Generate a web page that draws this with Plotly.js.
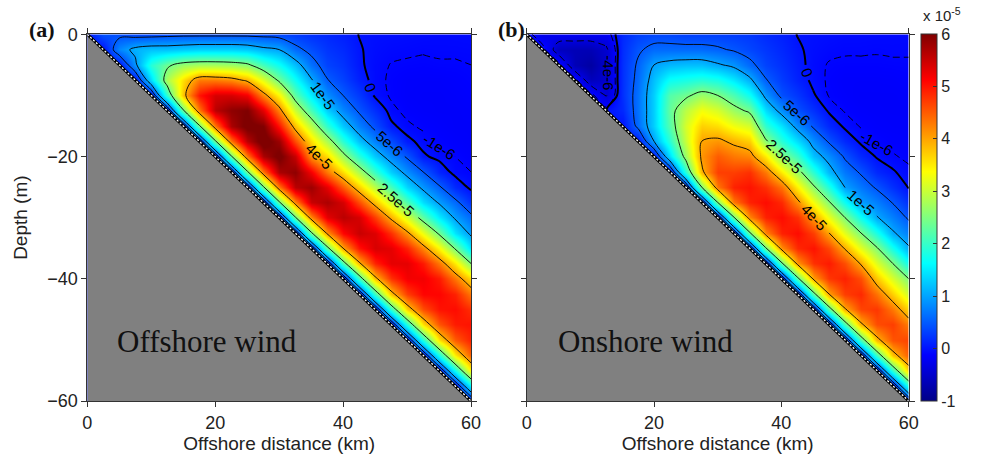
<!DOCTYPE html>
<html>
<head>
<meta charset="utf-8">
<script src="https://cdn.plot.ly/plotly-3.0.1.min.js"></script>
<style>
html,body{margin:0;padding:0;background:#fff;}
#chart{width:1003px;height:465px;}
</style>
</head>
<body>
<div id="chart"></div>
<script>
// ---------------- data ----------------
// grid positions
const distanceKm = [0,2.5,5,7.5,10,12.5,15,17.5,20,22.5,25,27.5,30,32.5,35,37.5,40,42.5,45,47.5,50,52.5,55,57.5,60];
const depthM = [0,-2.5,-5,-7.5,-10,-12.5,-15,-17.5,-20,-22.5,-25,-27.5,-30,-32.5,-35,-37.5,-40,-42.5,-45,-47.5,-50,-52.5,-55,-57.5,-60];

// sloping bottom (bathymetry)
const bottomX = [0, 60];
const bottomDepth = [0, -60];

// Field values in units of 1e-6, one vertical profile per offshore distance,
// listed from the surface (0 m) down to the bottom.
const offshoreProfiles = [
  [0],
  [4.5, 0],
  [4, 8, 0],
  [3.5, 11, 9, 0],
  [3.5, 12, 19, 14, 0],
  [3.8, 12, 24, 28, 20, 0],
  [4, 12.5, 27, 36, 38, 24, 0],
  [4, 13, 28, 43, 50, 43, 24, 0],
  [4, 13, 28, 43, 54, 56, 43, 24, 0],
  [4, 13, 27.5, 42, 54, 59, 57, 43, 24, 0],
  [4, 12.5, 26, 39, 52, 60, 61, 56, 43, 24, 0],
  [3.8, 11, 21, 32, 42, 53, 60, 62, 57, 43, 24, 0],
  [3.5, 10, 17, 24, 34, 42, 50, 58, 61, 57, 43, 24, 0],
  [2.8, 6, 12, 17, 22.5, 30, 38, 46, 55, 59, 56, 42, 24, 0],
  [2, 4, 6.5, 10.5, 15, 21, 29, 36, 41, 52, 58, 55, 42, 24, 0],
  [1.4, 2.3, 3.3, 5.2, 8.5, 13, 19.5, 28, 36, 43, 53, 57, 53, 41, 23, 0],
  [0.8, 1.5, 2.2, 3.2, 5, 8, 12.5, 19, 27, 36, 45, 54, 56, 51, 40, 22, 0],
  [-0.05, 0.15, 0.3, 0.9, 2.6, 4.5, 7.5, 12, 19, 28, 37, 46, 54, 55, 50, 39, 21, 0],
  [-0.3, -0.45, -0.6, -0.6, -0.3, 1.8, 4, 7.5, 12.5, 20, 29, 38, 47, 53.5, 54, 49, 38.5, 20.5, 0],
  [-0.4, -0.7, -1.05, -1.2, -1.15, -0.7, 0.4, 4, 8, 13, 21, 30, 39, 48, 53, 53, 48, 38, 20, 0],
  [-0.5, -0.8, -1.15, -1.45, -1.5, -1.3, -0.8, 0.5, 4.5, 8.5, 13.5, 21.5, 31, 41, 49, 53, 52, 47, 37, 19, 0],
  [-0.6, -0.9, -1.2, -1.5, -1.6, -1.5, -1.2, -0.6, 0.3, 5, 9, 14, 22.5, 32.5, 42, 49.5, 52, 51, 46, 36, 18.5, 0],
  [-0.7, -0.85, -1.1, -1.5, -1.6, -1.6, -1.4, -1.1, -0.5, 1.2, 5.5, 9.5, 15, 24, 34, 43, 49.5, 51, 50, 45.5, 35.5, 18, 0],
  [-0.65, -0.85, -1.1, -1.35, -1.5, -1.6, -1.6, -1.4, -1.0, -0.6, 1.5, 6, 9.5, 14.5, 24.5, 35, 43, 49, 50.5, 49.5, 45, 35, 17.5, 0],
  [-0.6, -0.8, -1.0, -1.15, -1.3, -1.5, -1.6, -1.6, -1.4, -1.0, -0.5, 2, 6, 9, 14, 25, 36, 43, 48, 50, 49, 45, 35, 17, 0]
];

const onshoreProfiles = [
  [-0.01],
  [-3, -0.01],
  [-2, -6, -0.01],
  [-2, -6.5, -6.5, -0.01],
  [-2, -6.5, -8, -6, -0.01],
  [-2, -4.6, -4.8, -4.8, -4.2, -0.01],
  [1.5, 1.8, 2, 2, 2, 1.5, 0],
  [3, 4.5, 5.5, 6, 6.5, 6.5, 6, 0],
  [3.5, 6, 10, 12, 13, 13, 13, 10, 0],
  [3.5, 6, 11.5, 17, 22, 23, 22, 19, 14, 0],
  [3, 6, 12, 18, 24, 29, 31, 30, 27, 19, 0],
  [3, 6, 12, 19, 27, 33, 37, 40, 41, 39, 25, 0],
  [3, 5.5, 10.5, 18, 25, 31, 36, 41, 45, 47, 43, 25, 0],
  [2.8, 4.6, 9, 15, 21.5, 27, 33, 39, 43, 47, 49, 43, 24, 0],
  [2.5, 3.5, 6, 11, 17, 24, 31, 37, 42, 48, 50, 49, 42, 24, 0],
  [1.6, 2.4, 3.3, 5.3, 9, 14, 19.5, 26, 35, 43, 48, 50.5, 49, 42, 24, 0],
  [0.9, 1.4, 2, 2.8, 4.2, 8.5, 14.5, 19, 25.5, 35, 43.5, 48.5, 50.5, 49, 41.5, 23.5, 0],
  [-0.05, 0.25, 0.6, 1.0, 2.4, 4.2, 8.5, 14, 20, 27, 34.5, 41.5, 48, 50.5, 48.5, 41, 23, 0],
  [-0.25, -0.4, -0.55, -0.4, 0.2, 2, 4.5, 8.5, 12, 19, 26, 33, 40.5, 47, 50, 48, 40.5, 22.5, 0],
  [-0.4, -0.7, -1.1, -1.2, -1.1, -0.3, 1.5, 4.5, 8.5, 11.5, 18.5, 25.5, 32.5, 40, 46.5, 49.5, 47.5, 40, 22, 0],
  [-0.6, -0.85, -1.2, -1.5, -1.4, -1.1, -0.4, 1.5, 4.5, 7, 9.8, 17, 25, 32, 39.5, 46, 49, 47, 39.5, 21.5, 0],
  [-0.6, -0.85, -1.2, -1.5, -1.6, -1.45, -1.1, -0.4, 1.5, 4.5, 7, 9.8, 17, 25, 32, 39.5, 46, 48.5, 46.5, 39, 21, 0],
  [-0.65, -0.9, -1.2, -1.5, -1.6, -1.55, -1.4, -1.0, -0.2, 1.5, 4.5, 7.5, 10.3, 18, 25.5, 31.5, 37.5, 43.5, 47.5, 46, 38.5, 20.5, 0],
  [-0.7, -0.85, -1.15, -1.45, -1.6, -1.6, -1.5, -1.3, -0.9, 0.2, 2, 4.8, 7.5, 10.5, 17.5, 25, 31, 37, 43, 47, 45.5, 38, 20, 0],
  [-0.7, -0.9, -1.1, -1.3, -1.5, -1.6, -1.55, -1.4, -1.2, -0.8, -0.2, 2, 4.5, 7.5, 10.5, 17, 25, 30.5, 36.5, 42.5, 46.5, 45, 37.5, 19.5, 0]
];

const contourLevels = [-4e-6, -1e-6, 0, 5e-6, 1e-5, 2.5e-5, 4e-5];
const colorTickVals = [-1e-5, 0, 1e-5, 2e-5, 3e-5, 4e-5, 5e-5, 6e-5];
const colorTickText = ['-1', '0', '1', '2', '3', '4', '5', '6'];
const xTicks = [0, 20, 40, 60];
const yTicks = [0, -20, -40, -60];

// contour-label placement (position in km / m, text angle, and the grid window
// [i0, i1, j0, j1] where the labelled line is broken to leave room for the text)
const offshoreLabels = [
  {level: 1e-5,   text: '1e-5',   x: 36.85, z: 10.0, angle: 54, win: [14, 16, 3, 5]},
  {level: 5e-6,   text: '5e-6',   x: 47.3,  z: 17.8, angle: 41, win: [18, 20, 6, 8]},
  {level: 2.5e-5, text: '2.5e-5', x: 48.3,  z: 27.0, angle: 41, win: [18, 21, 9, 12]},
  {level: 4e-5,   text: '4e-5',   x: 36.3,  z: 20.0, angle: 44, win: [13, 16, 7, 9]},
  {level: 0,      text: '0',      x: 44.25, z: 8.75, angle: 68, win: [17, 18, 3, 4]},
  {level: -1e-6,  text: '-1e-6',  x: 55.0,  z: 18.3, angle: 32, win: [21, 23, 6, 8]}
];
const onshoreLabels = [
  {level: -4e-6,  text: '-4e-6',  x: 12.8,  z: 6.25, angle: 90, win: [5, 6, 1, 4]},
  {level: 0,      text: '0',      x: 44.05, z: 6.25, angle: 68, win: [17, 18, 2, 3]},
  {level: 5e-6,   text: '5e-6',   x: 42.4,  z: 12.8, angle: 42, win: [16, 18, 4, 6]},
  {level: 2.5e-5, text: '2.5e-5', x: 40.5,  z: 20.0, angle: 43, win: [15, 18, 7, 9]},
  {level: 1e-5,   text: '1e-5',   x: 52.5,  z: 27.5, angle: 42, win: [20, 22, 10, 12]},
  {level: 4e-5,   text: '4e-5',   x: 45.2,  z: 30.0, angle: 47, win: [17, 19, 11, 13]},
  {level: -1e-6,  text: '-1e-6',  x: 55.0,  z: 17.9, angle: 29, win: [21, 23, 6, 8]}
];

// ---------------- build ----------------
const UNIT = 1e-6;
const NI = distanceKm.length - 1, NJ = depthM.length - 1;
function buildGrid(profiles) {
  return depthM.map((d, j) => distanceKm.map((x, i) =>
    j < profiles[i].length ? profiles[i][j] * UNIT : null));
}
function subGrid(z, i0, i1, j0, j1) {
  return {
    x: distanceKm.slice(i0, i1 + 1),
    y: depthM.slice(j0, j1 + 1),
    z: z.slice(j0, j1 + 1).map(r => r.slice(i0, i1 + 1))
  };
}

const jet = [
  [0, 'rgb(0,0,135)'], [0.125, 'rgb(0,0,255)'], [0.375, 'rgb(0,255,255)'],
  [0.625, 'rgb(255,255,0)'], [0.875, 'rgb(255,0,0)'], [1, 'rgb(128,0,0)']
];
const ZMIN = -1e-5, ZMAX = 6e-5;
const sans = 'Liberation Sans, Arial, Helvetica, sans-serif';
const serif = 'Liberation Serif, Times New Roman, serif';
const annotations = [];

function panelTraces(profiles, labels, xa, ya, withScale) {
  const z = buildGrid(profiles);
  const traces = [];
  const hm = {
    type: 'heatmap', x: distanceKm, y: depthM, z: z,
    xaxis: xa, yaxis: ya, zsmooth: 'best', connectgaps: true,
    colorscale: jet, zmin: ZMIN, zmax: ZMAX, hoverinfo: 'skip',
    showscale: withScale
  };
  if (withScale) {
    hm.colorbar = {
      x: 921 / 1003, xanchor: 'left', xpad: 0, ypad: 0,
      y: 64 / 465, yanchor: 'bottom', len: 367 / 465, lenmode: 'fraction',
      thickness: 16, thicknessmode: 'pixels',
      outlinewidth: 1, outlinecolor: '#333',
      tickvals: colorTickVals, ticktext: colorTickText,
      ticks: 'inside', ticklen: 4, tickcolor: '#333',
      tickfont: {family: sans, size: 16, color: '#222'}
    };
  }
  traces.push(hm);

  contourLevels.forEach(level => {
    // the zero level is taken a hair below 0 so the no-slip bottom (value 0) is not traced
    const lv = level === 0 ? -1e-18 : level;
    const lab = labels.find(l => l.level === level);
    let blocks = [[0, NI, 0, NJ]];
    if (lab) {
      const [i0, i1, j0, j1] = lab.win;
      blocks = [[0, i0, 0, NJ], [i1, NI, 0, NJ], [i0, i1, 0, j0], [i0, i1, j1, NJ]];
      annotations.push({
        text: lab.text, xref: xa, yref: ya, x: lab.x, y: -lab.z,
        textangle: lab.angle, showarrow: false, xanchor: 'center', yanchor: 'middle',
        font: {family: sans, size: 15, color: '#000'}
      });
    }
    blocks.forEach(([i0, i1, j0, j1]) => {
      if (i1 - i0 < 1 || j1 - j0 < 1) return;
      const g = subGrid(z, i0, i1, j0, j1);
      if (!g.z.some(r => r.some(v => v !== null))) return;
      traces.push({
        type: 'contour', x: g.x, y: g.y, z: g.z,
        xaxis: xa, yaxis: ya, connectgaps: true,
        autocontour: false,
        contours: {start: lv, end: lv, size: 1, coloring: 'none', showlabels: false},
        line: {
          color: '#000', width: level === 0 ? 2 : 0.9,
          dash: level < 0 ? '7px,4px' : 'solid', smoothing: 1
        },
        showscale: false, hoverinfo: 'skip', showlegend: false
      });
    });
  });

  // ground (below the sloping bottom)
  traces.push({
    type: 'scatter', mode: 'lines', xaxis: xa, yaxis: ya,
    x: [bottomX[0], bottomX[1], bottomX[0]],
    y: [bottomDepth[0], bottomDepth[1], bottomDepth[1]],
    fill: 'toself', fillcolor: 'rgb(128,128,128)',
    line: {width: 0}, hoverinfo: 'skip', showlegend: false
  });
  traces.push({
    type: 'scatter', mode: 'lines', xaxis: xa, yaxis: ya,
    x: bottomX, y: bottomDepth,
    line: {color: '#000', width: 3}, hoverinfo: 'skip', showlegend: false
  });
  traces.push({
    type: 'scatter', mode: 'lines', xaxis: xa, yaxis: ya,
    x: bottomX, y: bottomDepth,
    line: {color: '#fff', width: 1.3, dash: '2px,2px'}, hoverinfo: 'skip', showlegend: false
  });
  return traces;
}

const data = [].concat(
  panelTraces(offshoreProfiles, offshoreLabels, 'x', 'y', false),
  panelTraces(onshoreProfiles, onshoreLabels, 'x2', 'y2', true)
);

const axisCommon = {
  showgrid: false, zeroline: false, showline: true, linecolor: '#333', linewidth: 1,
  mirror: 'ticks', ticks: 'outside', ticklen: 5, tickcolor: '#333',
  tickfont: {family: sans, size: 18, color: '#222'}, automargin: false
};
const yDomain = [64 / 465, 430.7 / 465];

annotations.push(
  {text: '<b>(a)</b>', xref: 'paper', yref: 'paper', x: 27 / 1003, y: 1 - 15 / 465,
   showarrow: false, font: {family: serif, size: 22, color: '#111'}},
  {text: '<b>(b)</b>', xref: 'paper', yref: 'paper', x: 512 / 1003, y: 1 - 15 / 465,
   showarrow: false, font: {family: serif, size: 22, color: '#111'}},
  {text: 'Offshore wind', xref: 'x', yref: 'y', x: 18.7, y: -50.3,
   showarrow: false, font: {family: serif, size: 31, color: '#111'}},
  {text: 'Onshore wind', xref: 'x2', yref: 'y2', x: 18.6, y: -50.2,
   showarrow: false, font: {family: serif, size: 31, color: '#111'}},
  {text: 'x 10<sup>-5</sup>', xref: 'paper', yref: 'paper', x: 921 / 1003, y: 1 - 26 / 465,
   xanchor: 'left', yanchor: 'bottom',
   showarrow: false, font: {family: sans, size: 15, color: '#222'}}
);

const layout = {
  width: 1003, height: 465,
  margin: {l: 0, r: 0, t: 0, b: 0},
  paper_bgcolor: '#fff', plot_bgcolor: '#fff',
  showlegend: false, hovermode: false,
  font: {family: sans, color: '#222'},
  xaxis: Object.assign({}, axisCommon, {
    domain: [87.3 / 1003, 471 / 1003], range: [0, 60], tickvals: xTicks, anchor: 'y',
    title: {text: 'Offshore distance (km)', font: {family: sans, size: 19, color: '#222'}, standoff: 4}
  }),
  yaxis: Object.assign({}, axisCommon, {
    domain: yDomain, range: [-60, 0], tickvals: yTicks, anchor: 'x',
    title: {text: 'Depth (m)', font: {family: sans, size: 19, color: '#222'}, standoff: 14}
  }),
  xaxis2: Object.assign({}, axisCommon, {
    domain: [526.7 / 1003, 908.7 / 1003], range: [0, 60], tickvals: xTicks, anchor: 'y2',
    title: {text: 'Offshore distance (km)', font: {family: sans, size: 19, color: '#222'}, standoff: 4}
  }),
  yaxis2: Object.assign({}, axisCommon, {
    domain: yDomain, range: [-60, 0], tickvals: yTicks, anchor: 'x2', showticklabels: false
  }),
  annotations: annotations
};

Plotly.newPlot('chart', data, layout, {staticPlot: true, displayModeBar: false});
</script>
</body>
</html>
